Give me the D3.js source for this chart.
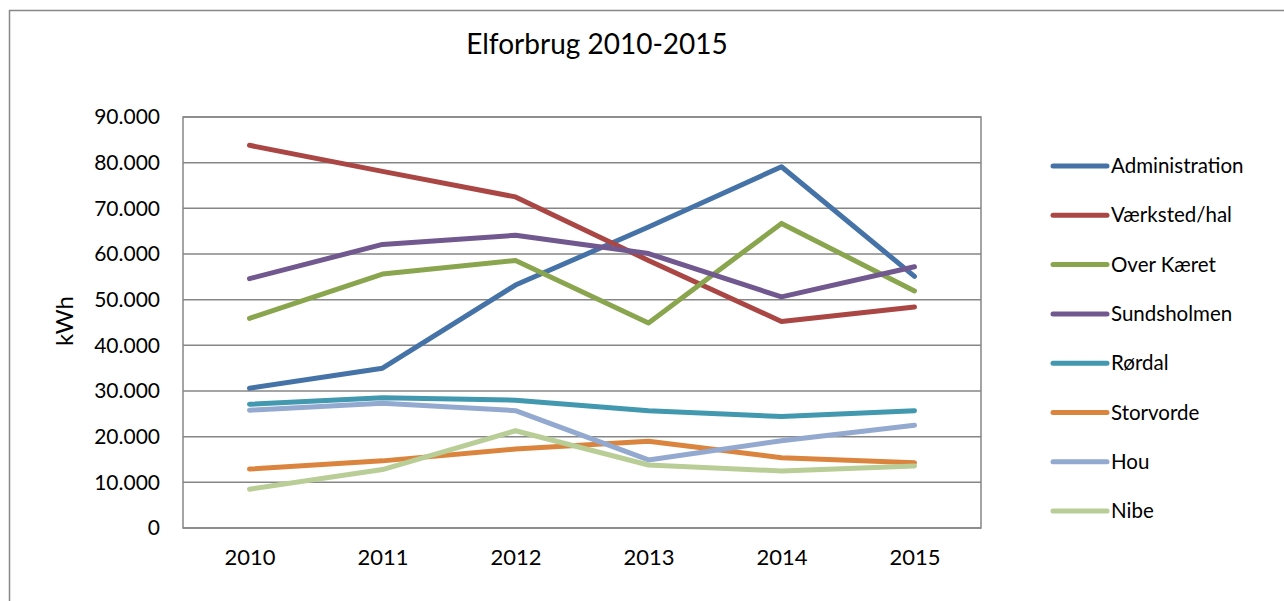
<!DOCTYPE html>
<html><head><meta charset="utf-8">
<script src="https://cdn.jsdelivr.net/npm/d3@7"></script>
<style>body{margin:0;background:#fff;}svg{display:block;font-family:Lato,"Open Sans",sans-serif;}</style>
</head><body>
<svg id="c" width="1284" height="601"></svg>
<script>
const years = ["2010","2011","2012","2013","2014","2015"];
const seriesNames = ["Administration","Værksted/hal","Over Kæret","Sundsholmen","Rørdal","Storvorde","Hou","Nibe"];
const administration = [30600, 35000, 53200, 65900, 79100, 55100];
const vaerksted = [83800, 78100, 72500, 58600, 45200, 48400];
const overKaeret = [45900, 55600, 58600, 44900, 66700, 51900];
const sundsholmen = [54600, 62100, 64100, 60100, 50600, 57200];
const rordal = [27100, 28500, 28000, 25700, 24400, 25700];
const storvorde = [12900, 14700, 17300, 19000, 15400, 14300];
const hou = [25800, 27300, 25700, 14900, 19100, 22500];
const nibe = [8500, 12800, 21300, 13800, 12500, 13600];
const colors = ["#4572A7","#AA4643","#89A54E","#71588F","#4198AF","#DB843D","#93A9CF","#B9CD96"];
const yTicks = [0,10000,20000,30000,40000,50000,60000,70000,80000,90000];
const title = "Elforbrug 2010-2015";
const yLabel = "kWh";

const allSeries = [administration, vaerksted, overKaeret, sundsholmen, rordal, storvorde, hou, nibe];
const svg = d3.select("#c");
// outer frame
svg.append("rect").attr("x",9.5).attr("y",10.5).attr("width",1300).attr("height",620)
  .attr("fill","none").attr("stroke","#888").attr("stroke-width",1.5);

const L=183, R=981, T=117, B=528;
const x = d3.scalePoint().domain(years).range([L,R]).padding(0.5);
const y = d3.scaleLinear().domain([0,90000]).range([B,T]);

// gridlines
svg.append("g").selectAll("line").data(yTicks).join("line")
  .attr("x1",L).attr("x2",R).attr("y1",d=>y(d)).attr("y2",d=>y(d))
  .attr("stroke","#868686").attr("stroke-width",1.5);
// plot border
svg.append("rect").attr("x",L).attr("y",T).attr("width",R-L).attr("height",B-T)
  .attr("fill","none").attr("stroke","#868686").attr("stroke-width",1.5);

const fmt = d => d===0 ? "0" : d3.format(",")(d).replace(/,/g,".");
const yAxis = svg.append("g").attr("transform",`translate(${L},0)`)
  .call(d3.axisLeft(y).tickValues(yTicks).tickFormat(fmt).tickSize(0).tickPadding(23));
yAxis.select(".domain").remove();
yAxis.selectAll("text").attr("font-size",21).attr("fill","#000").attr("font-family","Lato,sans-serif");

const xAxis = svg.append("g").attr("transform",`translate(0,${B})`)
  .call(d3.axisBottom(x).tickSize(0).tickPadding(21));
xAxis.select(".domain").remove();
xAxis.selectAll("text").attr("font-size",22).attr("fill","#000").attr("font-family","Lato,sans-serif");

const line = d3.line().x((d,i)=>x(years[i])).y(d=>y(d));
svg.append("g").selectAll("path").data(allSeries).join("path")
  .attr("d",line).attr("fill","none").attr("stroke",(d,i)=>colors[i])
  .attr("stroke-width",5).attr("stroke-linecap","round").attr("stroke-linejoin","round");

svg.append("text").attr("x",597).attr("y",54).attr("text-anchor","middle")
  .attr("font-size",28).attr("fill","#000").text(title);
svg.append("text").attr("transform","translate(73,321) rotate(-90)").attr("text-anchor","middle")
  .attr("font-size",24).attr("fill","#000").text(yLabel);

const leg = svg.append("g").selectAll("g").data(seriesNames).join("g")
  .attr("transform",(d,i)=>`translate(1053,${166+i*49.3})`);
leg.append("line").attr("x1",0).attr("x2",54).attr("stroke",(d,i)=>colors[i])
  .attr("stroke-width",5).attr("stroke-linecap","round");
leg.append("text").attr("x",58).attr("dy","0.35em").attr("font-size",20.5).attr("fill","#000").text(d=>d);
</script>
</body></html>
